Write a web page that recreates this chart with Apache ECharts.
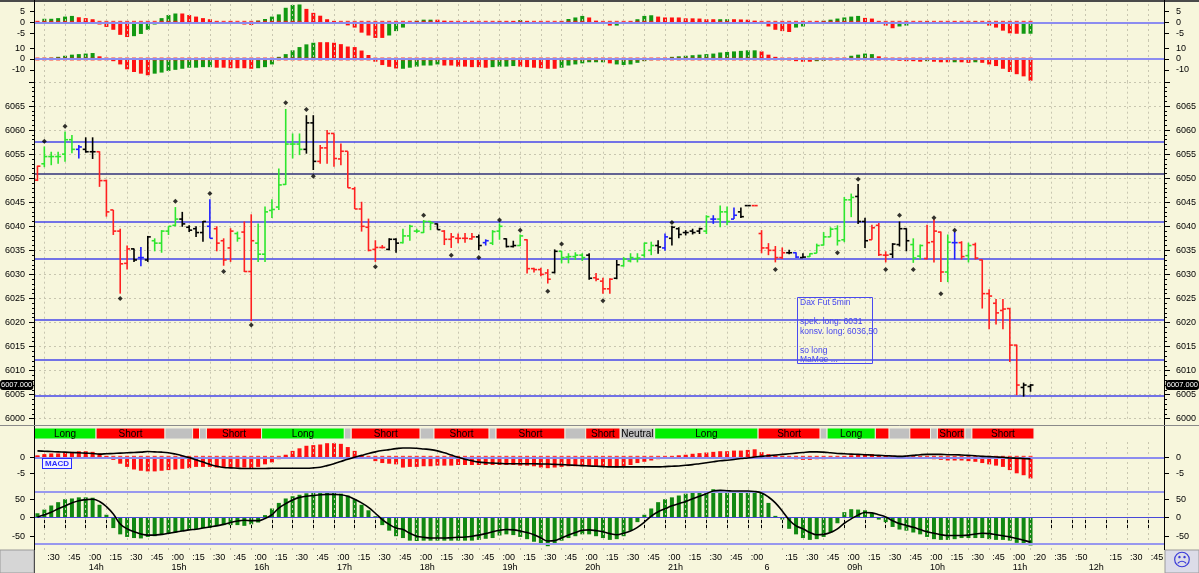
<!DOCTYPE html>
<html><head><meta charset="utf-8">
<script src="https://cdn.jsdelivr.net/npm/echarts@6/dist/echarts.min.js"></script>
<style>html,body{margin:0;padding:0;background:#f7f6dc;}#c{width:1199px;height:573px;}</style>
</head><body><div id="c"></div>
<script>
// ---------------- DATA ----------------
const OPEN  = [6049.6,6053,6054.5,6054.5,6055,6058,6056,6056,6055.5,6055.5, 6049.5,6043.4,6039,6032.3,6035.3,6033.5,6033,6037,6036.5,6039, 6040.2,6041.5,6039.8,6039.5,6038.7,6040,6039.5,6037,6035.5,6038.5, 6038.8,6030.6,6036.5,6034.2,6043.3,6044,6048.7,6057.1,6057.1,6056, 6061.5,6053.5,6056.3,6059.3,6054,6055.6,6047.8,6043.6,6039.8,6035.2, 6035.6,6035.2,6037.3,6036.6,6038,6039,6038.7,6041,6040.5,6039, 6037.3,6037.5,6037.5,6037.4,6037.8,6036.6,6036.5,6039,6037.4,6035.8, 6036,6037.2,6031.2,6031,6030.3,6030.4,6034.8,6033.6,6033.7,6034, 6034,6029.3,6028.6,6027,6029.2,6031.8,6032.8,6033.3,6034,6035, 6036,6035.5,6037.5,6039.5,6038.7,6039,6039,6039,6041.5,6041.5, 6043,6041.5,6043,6044.3,6044.3,6038.5,6035.5,6035,6033.5,6034.5, 6034.5,6033.5,6033.7,6034.4,6036.1,6037.8,6039.5,6037.2,6045.5,6046.2, 6041,6037.2,6040.2,6034,6034.2,6036.2,6039.5,6036.2,6033.8,6033.3, 6036.8,6038.8,6030.5,6036.6,6036.6,6033.9,6036.2,6033,6026,6024, 6022.5,6022.9,6015.3,6006.5,6006.7];
const HIGH  = [6052.6,6056.6,6055.5,6055.5,6059.7,6059,6056.9,6058.5,6058.5,6055.6, 6049.7,6043.4,6039.5,6036,6035.4,6035.7,6038,6037.5,6039.2,6040, 6044,6043,6040.2,6040,6041.1,6045.6,6040,6037.5,6039.6,6038.9, 6041,6042.5,6040.6,6044.1,6045.6,6052,6064.4,6059.3,6059.3,6063.1, 6063.1,6056.9,6060,6059.3,6057.2,6055.6,6048.2,6045.1,6041.6,6037.1, 6036.1,6037.5,6037.5,6039.5,6040.3,6039.5,6041.3,6041.1,6040.6,6039.2, 6038.6,6038.5,6038.6,6038.6,6038.3,6037.3,6039.2,6040.6,6037.5,6037, 6038.3,6037.3,6031.4,6031.4,6031.1,6035.2,6034.9,6034.4,6034.6,6034.4, 6034.4,6030.3,6029.3,6029.2,6033,6033.6,6034.4,6034.4,6036.6,6036.8, 6037.1,6038.5,6040.1,6039.8,6039.2,6039.5,6039.7,6042.3,6042.3,6044.3, 6044.1,6043.9,6043.9,6044.3,6044.3,6039.2,6036.5,6035.9,6035.6,6035.1, 6034.6,6034.4,6034.4,6036.4,6038.8,6039.8,6040.2,6046.1,6046.8,6048.8, 6041.8,6040.3,6040.7,6034.8,6036.5,6041,6039.6,6037.5,6036.2,6040.3, 6041.4,6038.9,6038.3,6038.9,6036.9,6036.6,6036.6,6033.1,6026.9,6024.9, 6024.9,6023,6015.4,6007.5,6007.2];
const LOW   = [6049.4,6052.3,6052.7,6053,6053.4,6055.2,6054.1,6055.3,6054,6048.2, 6042,6038.2,6026,6031,6032.6,6031.7,6032.6,6034.8,6034.5,6038.2, 6040,6039.9,6038.8,6037.8,6036.8,6037.5,6034.8,6031.8,6032.6,6036.8, 6030.5,6020.3,6032.6,6032.6,6041.7,6043.4,6048.6,6054.1,6054.8,6055.1, 6051.7,6053,6053,6052.4,6052.7,6048,6043.6,6038.9,6034.8,6032.6, 6035.4,6035,6034.5,6036.4,6037,6038.6,6038.6,6039.2,6039.3,6036.1, 6035.5,6036.5,6036.6,6037.2,6035,6036,6036.1,6037.2,6035.6,6035.6, 6035.9,6030.2,6030.4,6029.6,6028.1,6030.2,6032.3,6032.3,6033,6032.8, 6028.9,6028.6,6026,6026,6029,6031.6,6032.5,6032.5,6033.5,6034, 6034.3,6034.9,6036,6037.5,6038.1,6038.3,6038.4,6038.4,6040.5,6039.8, 6040.2,6041.5,6041.7,6044.3,6044.3,6034.4,6034,6032.5,6033.2,6034.2, 6033.4,6033.4,6033.6,6034.4,6036,6037.8,6036,6036.7,6041.9,6040.5, 6035.5,6037.2,6033.8,6032.5,6033.4,6035.8,6034.8,6032.4,6033.1,6033.1, 6032.5,6028.4,6028.4,6033.1,6033.1,6032.5,6033.1,6022.9,6018.6,6019.6, 6018.6,6011.8,6004.9,6004.6,6005.6];
const CLOSE = [6052.5,6054.5,6054.5,6054.5,6058,6056,6056.5,6055.5,6055.5,6049.5, 6043,6039,6032.2,6035.3,6033,6033.5,6037.8,6036.5,6039,6040, 6041.5,6040.5,6039.2,6038.7,6041,6037.5,6036.5,6033,6039,6037.5, 6030.6,6037,6034.2,6043,6043.5,6048.6,6057.1,6057.1,6056,6061.5, 6053.5,6056.3,6059.3,6054.1,6055.6,6048,6043.6,6040,6035,6035.6, 6035.6,6037.3,6036.5,6038,6040,6039,6041,6040.7,6039.3,6037.3, 6037.8,6037.5,6037.5,6037.8,6036,6037,6038.9,6040,6035.8,6036, 6038,6031.2,6031,6030,6029,6034.8,6033.5,6033.7,6034,6033.5, 6029.2,6029,6027,6029,6032,6033.2,6033.5,6033.4,6036.5,6036, 6035.7,6037.8,6039.8,6038.3,6038.7,6038.7,6039.5,6042,6041.5,6043, 6041,6042.3,6042,6044.3,6044.3,6035.5,6035,6033.5,6034.5,6034.5, 6033.6,6033.6,6034.3,6036,6037.8,6039.4,6037,6045.5,6046,6041, 6037,6039.7,6034.1,6034,6036.3,6039.5,6037,6033.4,6036,6036.6, 6039,6030.5,6036.7,6036.6,6033.7,6036,6033.4,6026,6025.5,6022, 6022.8,6015.3,6007,6007,6007];
// bar colour state: g=green r=red k=black b=blue
const BAR_STATE = ('rgggggbkkr'+'rrrrkbkggg'+'gkkkkbrrrg'+'rrgggggggk'+'krrrrrrrrr'+'rkkgggggkr'+'rrrrkbggkk'+'grrrrkgggg'+'krrrkggggg'+'kbkkkkkgbg'+'gbkkrrrrrk'+'bkgggggggk'+'krrrkkkggr'+'rrgbrgrrrr'+'rrrkk').split('');
const DOT_IDX = [1,4,12,20,25,27,31,36,39,40,49,56,60,64,67,70,74,76,82,92,107,116,119,123,125,127,130,131,133];
const DOT_VAL = [6057.7,6060.8,6025,6045.2,6046.8,6030.6,6019.5,6065.7,6064.3,6050.4,6031.6,6042.3,6034,6033.5,6041.3,6039.2,6026.5,6036.3,6024.5,6040.8,6031,6034.5,6049.8,6031,6042.3,6031,6041.8,6026,6039.2];
const PRICE_LEVELS = [6057.5,6051,6041,6033.2,6020.5,6012.2,6004.7];
const LAST_PRICE = 6007;

// top oscillator panels
const A_VAL = [0.3,1.6,1.6,1.9,2.6,2.9,2.3,1.9,1.4,-1.0, -2.1,-3.4,-5.7,-6.7,-6.3,-5.3,-3.4,-1.0,1.9,3.3, 4.0,4.0,3.3,2.6,1.9,1.4,0.3,-0.5,0.3,-0.5, -1.0,-1.2,0.8,1.5,2.6,3.6,6.6,7.9,8.1,6.1, 4.3,3.0,1.4,0.5,-0.7,-1.4,-2.4,-4.7,-6.0,-7.1, -7.1,-6.0,-4.0,
  -2.4,-0.3,0.7,1.2,1.2,1.2,0.7,0.3,-0.3,-0.7, -0.5,-0.7,-0.5,-0.3,0.3,0.3,0.5,1,0.5,-0.3, -0.7,-0.7,-0.5,0.3,1.5,2.2,2.9,2.2,0.7,-0.7, -1.5,-1.5,-0.5,0.3,1.4,2.9,3.2,2.6,2.2,2.2, 2.2,1.8,1.8,1.7,1.4,1.4,1.4,1.4,1.4,1.3, 1.2,0.7,-0.7,-1.9,-3.4,-4.0,-4.4,-2.4,
  -1.9,-0.7,0.3,0.7,1.2,1.7,2.2,2.6,2.9,2.0, 1.7,0.3,-1.5,-2.7,-1.9,-1.5,-0.7,-0.3,0.3,-0.3, -0.5,-0.3,0.3,-0.3,-0.3,0.3,-0.3,-1.5,-2.4,-3.8, -5.0,-5.2,-5.2,-5.2];
const A_COL = ('rgggggrrrr'+'rrrrgggggg'+'grrrrrrrrr'+'rrgggggggr'+'rrrrrrrrrr'+'rgg'+
  'grgggrrrrr'+'rggrgrrgrr'+'rrgggggrrr'+'rggrgggrrr'+'rrrrrrggrr'+'rrrrrrrg'+
  'grrggggggr'+'rrrrgggrgr'+'rrrrrgrrrr'+'rrgg').split('');
const B_VAL = [0.5,1,1.2,2,3,4,4.5,5,5.5,2.5, 1,-2,-5,-9.5,-12,-13.5,-15,-13.5,-12.5,-11, -10,-9,-8,-8,-7.5,-7.5,-8,-8,-8.5,-8.5, -8.5,-9,-8.5,-7.5,-5,2,4.5,8,11,13.5, 15,15.5,15.5,15,13.7,11.5,11,7.8,3.7,-2.5, -5.6,-7.2,-8.7,
  -9,-8,-7,-6,-6,-5,-6,-6,-7,-7, -7.5,-7.5,-8,-7.5,-7,-7,-6.5,-7,-7.5,-8, -8.5,-9,-9,-8,-6,-5,-4,-3,-3,-3, -4,-5,-5.5,-5,-3.5,-2,-1,0,1,2, 2.5,3,3.5,4,4.5,5,6,6.5,7,7.5, 8,8,7,4,2,0,-1,-2,
  -2.5,-2.5,-2,-1.5,-0.5,0.5,1,3,4,5, 4.5,2.5,1,-1,-1.5,-2,-2,-2.5,-2,-2.5, -3,-3,-3,-3,-3.5,-3,-3.5,-5,-6.5,-9, -12,-14,-16,-20];
const B_COL = ('r'+'gggggggg'+'rrrrrrrr'+'ggggggggg'+'rrrrrr'+'ggggggggg'+'rrrrrrrrrrrr'+
  'ggggggrrrr'+'rrrggggrrr'+'rrrggggggg'+'rggggggrrg'+'gggggggggg'+'ggrrrrrr'+
  'rrggrrrggg'+'grrrrrrrgr'+'rrgrrgrrrr'+'rrrr').split('');

// MACD panel
const MACD_HIST = [0.6,1,1.2,1.2,1.5,1.7,1.9,1.9,1.7,1.2, 0.3,-0.8,-2.0,-3.0,-3.8,-4.2,-4.4,-4.4,-4.2,-4.0, -3.8,-3.6,-3.4,-3.0,-3.0,-3.0,-3.2,-3.2,-3.4,-3.2, -3.2,-3.4,-3.0,-2.2,-1.6,-0.6,0.8,2.0,2.8,3.6, 3.8,4.0,4.4,4.4,4.2,3.2,2.0,0.6,-0.4,-1.2, -1.8,-2.0,-2.2,
  -3.2,-3,-3,-2.8,-2.8,-2.6,-2.6,-2.6,-2.4,-2.4, -2.4,-2.4,-2.4,-2.4,-2.4,-2.4,-2.4,-2.6,-2.6,-2.8, -3.2,-3.4,-3.2,-3.0,-2.8,-2.8,-2.8,-2.8,-3.0,-3.0, -3.0,-3.2,-2.8,-2.4,-1.8,-1.4,-1.0,-0.6,-0.2,0.2, 0.6,0.8,1.1,1.3,1.5,1.7,1.9,1.9,2.1,2.1, 2.3,2.5,1.6,1.0,0.6,0.2,-0.4,-0.6,
  -0.8,-0.8,-0.6,-0.6,-0.4,-0.2,0.2,0.6,0.8,1.0, 1.0,0.6,0.4,0.2,0,-0.2,-0.2,-0.4,-0.4,-0.6, -0.8,-1.0,-1.0,-1.0,-1.2,-1.4,-1.8,-2.2,-2.6,-3.0, -4.0,-5.0,-5.6,-6.6];
const MACD_LINE = [2.0,1.9,1.8,1.7,1.6,1.5,1.4,1.3,1.2,1.0, 1.1,1.2,1.3,1.4,1.5,1.6,1.8,1.7,1.6,1.4, 1.0,0.5,-0.1,-0.8,-1.5,-2.2,-2.8,-3.2,-3.3,-3.4, -3.5,-3.5,-3.5,-3.5,-3.4,-3.4,-3.4,-3.4,-3.4,-3.4, -3.3,-3.1,-2.6,-2.0,-1.3,-0.6,0.0,0.6,1.2,1.7, 2.1,2.4,2.7,
  2.9,2.9,2.8,2.6,2.4,2.0,1.4,0.7,0.0,-0.6, -1.1,-1.5,-1.7,-1.8,-1.9,-2.0,-2.0,-2.0,-2.0,-2.0, -2.1,-2.1,-2.2,-2.3,-2.4,-2.5,-2.6,-2.7,-2.8,-2.9, -3.0,-3.0,-3.0,-3.0,-3.0,-3.0,-3.0,-3.0,-2.9,-2.8, -2.7,-2.5,-2.3,-2.0,-1.7,-1.4,-1.1,-0.9,-0.7,-0.4, -0.2,0.1,0.3,0.5,0.7,0.9,1.1,1.3,
  1.5,1.7,1.7,1.6,1.4,1.2,1.1,1.0,0.9,0.8, 0.7,0.6,0.5,0.4,0.3,0.4,0.6,0.8,0.9,0.9, 0.9,0.8,0.8,0.7,0.6,0.5,0.3,0.2,0.1,0.0, -0.2,-0.3,-0.4,-0.5];

// bottom oscillator panel
const OSC_HIST = [12,22,33,42,50,52,55,55,54,35, 8,-28,-45,-52,-55,-56,-52,-50,-47,-44, -40,-36,-33,-31,-28,-27,-22,-20,-20,-20, -22,-18,-13,7,25,40,52,58,62,66, 68,68,68,68,65,60,50,35,20,4, -20,-35,-50,
  -55,-62,-63,-62,-62,-62,-62,-62,-62,-62, -62,-60,-57,-55,-48,-45,-47,-52,-58,-65, -72,-77,-70,-62,-55,-50,-45,-45,-50,-55, -60,-58,-50,-35,-12,8,25,42,50,55, 60,65,68,70,72,77,75,72,72,72, 72,72,68,40,5,-5,-30,-45,
  -55,-60,-58,-52,-40,-15,15,23,22,20, 12,-5,-12,-25,-32,-35,-40,-45,-52,-58, -60,-60,-58,-55,-55,-55,-55,-58,-60,-60, -62,-68,-72,-75];
const OSC_LINE = [2,8,15,24,32,40,46,49,50,44, 30,10,-17,-30,-38,-44,-47,-47,-45,-42, -39,-36,-33,-31,-28,-25,-22,-18,-13,-9, -7,-8,-8,-2,8,26,38,48,55,58, 60,62,63,63,62,58,50,40,28,12, -5,-18,-28,
  -32,-42,-50,-53,-55,-55,-55,-54,-53,-52, -50,-47,-43,-38,-34,-32,-33,-36,-40,-46, -55,-63,-62,-55,-47,-40,-34,-33,-35,-38, -43,-46,-42,-36,-26,-12,4,16,24,32, 38,44,51,58,65,72,74,73,72,72, 72,71,67,56,40,18,-6,-22,
  -30,-40,-46,-45,-40,-30,-15,-3,7,14, 13,8,2,-8,-16,-21,-26,-32,-38,-42, -46,-48,-48,-48,-47,-44,-42,-43,-46,-49, -52,-56,-61,-66];

// signal strip
const SIG_START = [0,9,19,23,24,25,33,45,46,56,58,66,67,77,80,85,90,105,114,115,122,124,127,130,131,135,136];
const SIG_END   = [8,18,22,23,24,32,44,45,55,57,65,66,76,79,84,89,104,113,114,121,123,126,129,130,134,135,144];
const SIG_STATE = ['L','S','N','S','N','S','L','N','S','N','S','N','S','N','S','N','L','S','N','L','S','N','S','N','S','N','S'];
const SIG_TEXT  = ['Long','Short','','','','Short','Long','','Short','','Short','','Short','','Short','Neutral','Long','Short','','Long','','','','','Short','','Short'];

// time axis: 5-min slots, two sessions + empty future slots
const N_SLOTS = 164;
function hhmm(m){const h=Math.floor(m/60)%24,mm=m%60;return (h<10?'0':'')+h+':'+(mm<10?'0':'')+mm;}
const CATEGORIES = [];
for (let i=0;i<104;i++) CATEGORIES.push(hhmm(13*60+25+5*i));
CATEGORIES.push('22:05');
for (let i=105;i<N_SLOTS;i++) CATEGORIES.push(hhmm(8*60+5*(i-105)));
const DAY_BREAK = 105, DAY_LABEL = '6', SESSION_END = 103;
const FUTURE_MIN_LABELS = {144:':20',147:':35',150:':50',155:':15',158:':30',161:':45'};
const FUTURE_HOUR_LABELS = {152:'12h'};
const MIN_LABEL = {}, HOUR_LABEL = {};
for (let i=0;i<144;i++){
  const mm=+CATEGORIES[i].slice(3), hh=CATEGORIES[i].slice(0,2);
  if (i===DAY_BREAK) continue;
  if (mm%15===0) MIN_LABEL[i]=':'+CATEGORIES[i].slice(3);
  if (mm===0 && i!==SESSION_END) HOUR_LABEL[i]=hh+'h';
}
Object.assign(MIN_LABEL, FUTURE_MIN_LABELS);
HOUR_LABEL[DAY_BREAK]=DAY_LABEL;
Object.assign(HOUR_LABEL, FUTURE_HOUR_LABELS);
const GRID_IDX = Object.keys(MIN_LABEL).map(Number).concat([DAY_BREAK,152]);
const MIN_TICK = new Set(GRID_IDX);

// ---------------- STYLE ----------------
const BG='#f7f6dc';
const PCOL={g:'#2ee62e',r:'#ff2020',k:'#000000',b:'#2020ff'};
const HCOL={g:'#119911',r:'#ff1111'};
const SCOL={L:'#00ee00',S:'#ff0000',N:'#c0c0c0'};
const FONT='Liberation Sans';
const LEFT=34, RIGHT=34;
const plain = v => String(v);

function catX(gi, show){return {type:'category',gridIndex:gi,data:CATEGORIES,show:!!show,boundaryGap:true};}
function yax(gi,pos,min,max,labels,extra){
  return Object.assign({type:'value',gridIndex:gi,position:pos,min:min,max:max,
    axisLine:{show:false},splitLine:{show:false},
    axisTick:{show:true,length:4,customValues:labels,lineStyle:{color:'#000'}},
    axisLabel:{customValues:labels,formatter:plain,fontSize:9,color:'#000',margin:pos==='left'?9:11,fontFamily:FONT}},extra||{});
}
function frame(xi,yi,hl){
  return {type:'scatter',xAxisIndex:xi,yAxisIndex:yi,data:[],silent:true,z:1,
    markLine:{silent:true,symbol:['none','none'],animation:false,label:{show:false},
      data:GRID_IDX.map(i=>({xAxis:i,lineStyle:{color:'#c8c6b0',type:[2,3],width:1}}))
        .concat(hl.map(h=>({yAxis:h[0],lineStyle:{color:h[1],width:h[2],type:'solid'}})))}};
}
function hist(xi,yi,vals,cols){
  return {type:'bar',xAxisIndex:xi,yAxisIndex:yi,barWidth:4,silent:true,z:3,
    data:vals.map((v,i)=>({value:v,itemStyle:{color:HCOL[cols?cols[i]:'r']}}))};
}
function zeroDots(xi,yi,n){
  return {type:'scatter',xAxisIndex:xi,yAxisIndex:yi,symbol:'rect',symbolSize:[4,3],silent:true,z:4,
    itemStyle:{color:'#ff1111'},data:Array.from({length:n},(_,i)=>[i,0])};
}
const priceLabel={show:true,formatter:()=>LAST_PRICE.toFixed(3),backgroundColor:'#000',color:'#fff',fontSize:7.5,padding:[1,1],fontFamily:FONT};
function pricePointer(){return {show:true,type:'line',value:LAST_PRICE,status:'show',snap:false,triggerTooltip:false,lineStyle:{opacity:0},label:priceLabel};}

const chart = echarts.init(document.getElementById('c'));
const grids=[
  {left:LEFT,right:RIGHT,top:2,height:39},
  {left:LEFT,right:RIGHT,top:41,height:41},
  {left:LEFT,right:RIGHT,top:82,height:336.7},
  {left:LEFT,right:RIGHT,top:428,height:11},
  {left:LEFT,right:RIGHT,top:440,height:49},
  {left:LEFT,right:RIGHT,top:489,height:61}
].map(g=>Object.assign(g,{containLabel:false,outerBoundsMode:'none'}));

const option={
  backgroundColor:BG,animation:false,textStyle:{fontFamily:FONT},
  grid:grids,
  xAxis:[catX(0),catX(1),catX(2),catX(3),catX(4),
    {type:'category',gridIndex:5,data:CATEGORIES,position:'bottom',
      axisLine:{show:true,lineStyle:{color:'#000'}},
      axisTick:{show:true,alignWithLabel:true,length:11,interval:(i)=>MIN_TICK.has(i),lineStyle:{color:'#000'}},
      axisLabel:{interval:(i)=>MIN_LABEL[i]!==undefined,formatter:(v,i)=>MIN_LABEL[i]||'',align:'left',padding:[0,0,0,3],margin:3,fontSize:9,color:'#000'}},
    {type:'category',gridIndex:5,data:CATEGORIES,position:'bottom',offset:11.7,
      axisLine:{show:true,lineStyle:{color:'#000'}},
      axisTick:{show:true,alignWithLabel:true,length:11,interval:(i)=>HOUR_LABEL[i]!==undefined,lineStyle:{color:'#000'}},
      axisLabel:{interval:(i)=>HOUR_LABEL[i]!==undefined,formatter:(v,i)=>HOUR_LABEL[i]||'',align:'left',padding:[0,0,0,3],margin:1,fontSize:9,color:'#000'}}
  ],
  yAxis:[
    yax(0,'left',-8.5,9.23,[-5,0,5]), yax(0,'right',-8.5,9.23,[-5,0,5]),
    yax(1,'left',-21.2,16.6,[-10,0,10]), yax(1,'right',-21.2,16.6,[-10,0,10]),
    {type:'value',gridIndex:2,position:'left',min:6000,max:6070,interval:5,
      axisLine:{show:false},axisTick:{show:true,length:5,lineStyle:{color:'#000'}},
      minorTick:{show:true,splitNumber:5,length:2,lineStyle:{color:'#000'}},
      splitLine:{show:true,lineStyle:{color:'#c8c6b0',type:[2,3]}},
      axisLabel:{formatter:plain,fontSize:9,color:'#000',margin:9,showMaxLabel:false},
      axisPointer:pricePointer()},
    {type:'value',gridIndex:2,position:'right',min:6000,max:6070,interval:5,
      axisLine:{show:false},axisTick:{show:true,length:5,lineStyle:{color:'#000'}},
      minorTick:{show:true,splitNumber:5,length:2,lineStyle:{color:'#000'}},
      splitLine:{show:false},
      axisLabel:{formatter:plain,fontSize:9,color:'#000',margin:11,showMaxLabel:false},
      axisPointer:pricePointer()},
    {type:'value',gridIndex:3,min:0,max:1,show:false},
    yax(4,'left',-9.9,5.4,[-5,0]), yax(4,'right',-9.9,5.4,[-5,0]),
    yax(5,'left',-87.3,77.6,[-50,0,50]), yax(5,'right',-87.3,77.6,[-50,0,50])
  ],
  series:[
    frame(0,0,[[0,'#8c8cf0',2]]), hist(0,0,A_VAL,A_COL), zeroDots(0,0,A_VAL.length),
    frame(1,2,[[0,'#8c8cf0',2]]), hist(1,2,B_VAL,B_COL), zeroDots(1,2,B_VAL.length),
    frame(2,4,PRICE_LEVELS.map(v=>[v, v===6051?'#30307a':'#4646ea',1.5])),
    {type:'custom',xAxisIndex:2,yAxisIndex:4,z:5,silent:true,
      data:OPEN.map((o,i)=>[i,o,CLOSE[i],LOW[i],HIGH[i]]),
      encode:{x:0,y:[1,2,3,4]},
      renderItem:function(params,api){
        const i=api.value(0);
        const o=api.coord([i,api.value(1)]),c=api.coord([i,api.value(2)]);
        const l=api.coord([i,api.value(3)]),h=api.coord([i,api.value(4)]);
        const col=PCOL[BAR_STATE[params.dataIndex]],w=3,lw=1.6;
        return {type:'group',children:[
          {type:'line',shape:{x1:o[0],y1:l[1],x2:o[0],y2:h[1]},style:{stroke:col,lineWidth:lw}},
          {type:'line',shape:{x1:o[0]-w,y1:o[1],x2:o[0],y2:o[1]},style:{stroke:col,lineWidth:lw}},
          {type:'line',shape:{x1:c[0],y1:c[1],x2:c[0]+w,y2:c[1]},style:{stroke:col,lineWidth:lw}}]};
      }},
    {type:'scatter',xAxisIndex:2,yAxisIndex:4,symbol:'diamond',symbolSize:5,z:6,silent:true,
      itemStyle:{color:'#000'},data:DOT_IDX.map((d,k)=>[d,DOT_VAL[k]])},
    {type:'custom',xAxisIndex:3,yAxisIndex:6,silent:true,z:5,
      data:SIG_START.map((s,k)=>[s,SIG_END[k]]),encode:{x:[0,1]},
      renderItem:function(params,api){
        const k=params.dataIndex;
        const s=api.coord([api.value(0),1]),e=api.coord([api.value(1),0]);
        const bw=api.size([1,0])[0];
        const x=s[0]-bw/2,y=s[1],w=e[0]-s[0]+bw,h=e[1]-s[1];
        return {type:'group',children:[
          {type:'rect',shape:{x:x,y:y,width:w,height:h},style:{fill:SCOL[SIG_STATE[k]],stroke:'#f0efe0',lineWidth:1}},
          {type:'text',style:{text:SIG_TEXT[k],x:x+w/2,y:y+h/2+0.5,align:'center',verticalAlign:'middle',fill:'#000',font:'10px '+FONT}}]};
      }},
    frame(4,7,[[0,'#8c8cf0',2]]), hist(4,7,MACD_HIST,null), zeroDots(4,7,MACD_HIST.length),
    {type:'line',xAxisIndex:4,yAxisIndex:7,data:MACD_LINE,symbol:'none',smooth:0.4,silent:true,z:6,lineStyle:{color:'#000',width:1.6}},
    frame(5,9,[[70,'#9898ee',2],[-70,'#9898ee',2],[0,'#4848d8',1]]),
    {type:'bar',xAxisIndex:5,yAxisIndex:9,barWidth:4,silent:true,z:3,itemStyle:{color:'#118811'},data:OSC_HIST},
    {type:'line',xAxisIndex:5,yAxisIndex:9,data:OSC_LINE,symbol:'none',smooth:0.4,silent:true,z:6,lineStyle:{color:'#000',width:1.6}}
  ],
  graphic:[
    {type:'rect',shape:{x:0,y:0,width:1199,height:2},style:{fill:'#4a4a4a'},z:100},
    {type:'line',shape:{x1:34.5,y1:0,x2:34.5,y2:573},style:{stroke:'#000',lineWidth:1},z:100},
    {type:'line',shape:{x1:1164.5,y1:0,x2:1164.5,y2:550},style:{stroke:'#000',lineWidth:1},z:100},
    {type:'line',shape:{x1:0,y1:425.5,x2:1199,y2:425.5},style:{stroke:'#8a8a8a',lineWidth:1},z:100},
    {type:'rect',shape:{x:0,y:550,width:34,height:23},style:{fill:'#d6d6d6',stroke:'#9a9a9a'},z:100},
    {type:'rect',shape:{x:1165,y:550,width:34,height:23},style:{fill:'#dcdce8',stroke:'#9a9a9a'},z:100},
    {type:'text',style:{text:'\u2639',x:1182,y:561.5,align:'center',verticalAlign:'middle',fill:'#3a3ad8',font:'18px DejaVu Sans'},z:101},
    {type:'text',style:{text:'MACD',x:43,y:459,fill:'#2a2aff',font:'bold 8px '+FONT,backgroundColor:'#f2f2ff',borderColor:'#2a2aff',borderWidth:1,padding:[1,2,0,2]},z:100},
    {type:'rect',shape:{x:797.5,y:297.5,width:75,height:66},style:{fill:'none',stroke:'#4a4af0',lineWidth:1},z:100},
    {type:'text',style:{text:'Dax Fut 5min\n\nspek. long: 6031\nkonsv. long: 6036,50\n\nso long\nMaMoe ...',x:800,y:298,fill:'#4646ee',font:'8.5px '+FONT,lineHeight:9.5},z:100}
  ]
};
chart.setOption(option);
</script></body></html>
